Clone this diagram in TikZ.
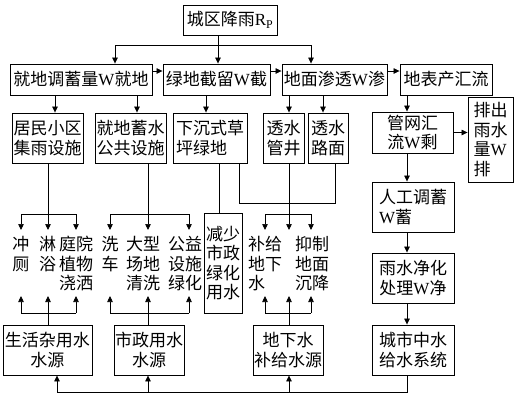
\documentclass[tikz,border=0pt]{standalone}
\usepackage{fontspec}
\setmainfont{Liberation Serif}
\newfontfamily\cjk{Noto Sans CJK SC}
\usetikzlibrary{arrows.meta,calc}

\newcommand{\Wt}{\textrm{W}}

\tikzset{
    box/.style={draw, line width=0.9pt, inner xsep=1pt, inner ysep=1pt,
        align=center, font=\cjk\fontsize{17}{19.5}\selectfont},
    lbox/.style={box, align=left},
    usage/.style={inner sep=0pt, anchor=north, align=left,
        font=\cjk\fontsize{17}{19.5}\selectfont},
    arr/.style={-{Triangle[length=6pt,width=5.5pt]}},
}

\begin{document}
\begin{tikzpicture}[x=1pt,y=-1pt,line width=0.7pt]

\useasboundingbox (0,0) rectangle (517,400);

% Top: rainfall.
\node[box, minimum width=94pt, minimum height=30pt] (rain) at (230,20)
    {城区降雨\textrm{R}$_{\mathrm{P}}$};

% Second row: where the rain goes.
\node[box, minimum width=142pt, minimum height=31pt] (store) at (81,79.5)
    {就地调蓄量\Wt{}就地};
\node[box, minimum width=107pt, minimum height=31pt] (green) at (216.5,79.5)
    {绿地截留\Wt{}截};
\node[box, minimum width=105pt, minimum height=31pt] (seep) at (334.5,79.5)
    {地面渗透\Wt{}渗};
\node[box, minimum width=92pt, minimum height=31pt] (runoff) at (446,79.5)
    {地表产汇流};

% Third row: facilities.
\node[box, minimum width=71pt, minimum height=50pt] (resid) at (47.5,138)
    {居民小区\\集雨设施};
\node[box, minimum width=71pt, minimum height=50pt] (pubfac) at (130.5,138)
    {就地蓄水\\公共设施};
\node[lbox, minimum width=74pt, minimum height=50pt] (sunken) at (210,138)
    {下沉式草\\坪绿地};
\node[box, minimum width=41pt, minimum height=50pt] (well) at (283.5,138)
    {透水\\管井};
\node[box, minimum width=40pt, minimum height=50pt] (pave) at (328,138)
    {透水\\路面};

% Right column: pipe network and reuse.
\node[box, minimum width=81pt, minimum height=41pt] (pipe) at (412.5,132.5)
    {管网汇\\流\Wt{}剩};
\node[lbox, minimum width=45pt, minimum height=85pt] (drain) at (490.5,139.5)
    {排出\\雨水\\量\Wt\\排};
\node[lbox, minimum width=82pt, minimum height=50pt] (regul) at (413,207)
    {人工调蓄\\\Wt{}蓄};
\node[box, minimum width=82pt, minimum height=50pt] (purify) at (413,278)
    {雨水净化\\处理\Wt{}净};
\node[box, minimum width=82pt, minimum height=50pt] (reuse) at (413,350)
    {城市中水\\给水系统};

% Reduced municipal watering.
\node[box, minimum width=38pt, minimum height=100pt] (reduce) at (223,263)
    {减少\\市政\\绿化\\用水};

% Bottom row: water sources.
\node[box, minimum width=89pt, minimum height=50pt] (life) at (47.5,350)
    {生活杂用水\\水源};
\node[box, minimum width=70pt, minimum height=50pt] (civ) at (149,350)
    {市政用水\\水源};
\node[box, minimum width=70pt, minimum height=50pt] (ground) at (288,350)
    {地下水\\补给水源};

% Uses, written as columns.
\foreach \n/\x/\txt in {flush/21/冲\\厕, bath/47.5/淋\\浴,
        garden/76/庭院\\植物\\浇洒, carwash/110/洗\\车,
        plaza/143/大型\\场地\\清洗, civic/185/公益\\设施\\绿化,
        recharge/265/补给\\地下\\水, subside/312/抑制\\地面\\沉降}
    \node[usage] (\n) at (\x,236) {\txt};

% Columns and levels the connectors run along.
\foreach \n/\x in {a/21,b/48,c/76,d/110,e/148,f/189,g/219,h/239,i/265,
        j/289,k/311,l/335,m/55,n/137,o/206,p/323,q/407,r/57,s/115,t/218}
    \coordinate (x\n) at (\x,0);
\coordinate (lvsplit) at (0,45);
\coordinate (lvside) at (0,71);
\coordinate (lvgreen) at (0,203);
\coordinate (lvhubA) at (0,214);
\coordinate (lvtop) at (0,230);
\coordinate (lvbot) at (0,296);
\coordinate (lvhubB) at (0,313);
\coordinate (lvbase) at (0,392);

% Rain split.
\draw[arr] (xt |- rain.south) -- (xt |- green.north);
\draw (xs |- lvsplit) -- (xk |- lvsplit);
\draw[arr] (xs |- lvsplit) -- (xs |- store.north);
\draw[arr] (xk |- lvsplit) -- (xk |- seep.north);

% Row two, left to right.
\foreach \a/\b in {store/green,green/seep,seep/runoff}
    \draw[arr] (\a.east |- lvside) -- (\b.west |- lvside);

% Row two, down to the facilities.
\draw[arr] (xm |- store.south) -- (xm |- resid.north);
\draw[arr] (xn |- store.south) -- (xn |- pubfac.north);
\draw[arr] (xo |- green.south) -- (xo |- sunken.north);
\draw[arr] (xj |- seep.south) -- (xj |- well.north);
\draw[arr] (xp |- seep.south) -- (xp |- pave.north);
\draw[arr] (xq |- runoff.south) -- (xq |- pipe.north);

% Right column.
\draw[arr] (pipe.east) -- (pipe.east -| drain.west);
\draw[arr] (xq |- pipe.south) -- (xq |- regul.north);
\draw[arr] (xq |- regul.south) -- (xq |- purify.north);
\draw[arr] (xq |- purify.south) -- (xq |- reuse.north);

% Facilities down to the uses.
\foreach \s/\m/\l/\r in {resid/xb/xa/xc, pubfac/xe/xd/xf, well/xj/xi/xk} {
    \draw (\m |- \s.south) -- (\m |- lvhubA);
    \draw (\l |- lvhubA) -- (\r |- lvhubA);
    \foreach \x in {\l,\m,\r}
        \draw[arr] (\x |- lvhubA) -- (\x |- lvtop);
}

% Sunken lawn.
\draw (xg |- sunken.south) -- (xg |- reduce.north);
\draw (xh |- sunken.south) |- (xl |- lvgreen) -- (xl |- pave.south);

% Sources up to the uses.
\foreach \s/\m/\l/\r in {life/xb/xa/xc, civ/xe/xd/xf, ground/xj/xi/xk} {
    \draw (\m |- \s.north) -- (\m |- lvhubB);
    \draw (\l |- lvhubB) -- (\r |- lvhubB);
    \foreach \x in {\l,\m,\r}
        \draw[arr] (\x |- lvhubB) -- (\x |- lvbot);
}

% Reclaimed water back to the sources.
\draw (xq |- reuse.south) |- (xr |- lvbase);
\draw[arr] (xr |- lvbase) -- (xr |- life.south);
\draw[arr] (xe |- lvbase) -- (xe |- civ.south);
\draw[arr] (xj |- lvbase) -- (xj |- ground.south);

\end{tikzpicture}
\end{document}
